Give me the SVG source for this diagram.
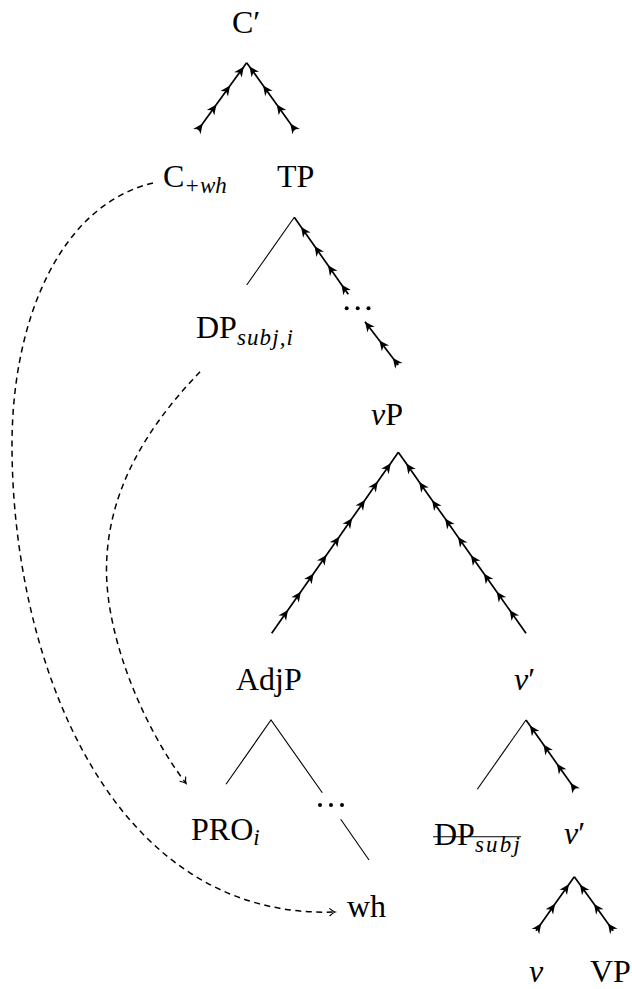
<svg xmlns="http://www.w3.org/2000/svg" width="632" height="989" viewBox="0 0 632 989">
<style>
text{font-family:"Liberation Serif","Times New Roman",serif;font-size:32px;fill:#000}
.it{font-style:italic}
.sub{font-size:23px;font-style:italic}
.plain{fill:none;stroke:#000;stroke-width:1.1}
.arr{fill:none;stroke:#000;stroke-width:1.7;marker-mid:url(#stealth)}
.dash{fill:none;stroke:#000;stroke-width:1.5;stroke-dasharray:6 4.5;marker-end:url(#open)}
</style>
<defs>
<marker id="stealth" viewBox="-11 -6 13 12" refX="0" refY="0" markerWidth="13" markerHeight="12" markerUnits="userSpaceOnUse" orient="auto" overflow="visible">
<path d="M0,0 L-10,-4.6 L-7,0 L-10,4.6 Z" fill="#000" stroke="none"/>
</marker>
<marker id="stealthEnd" viewBox="-11 -6 13 12" refX="0" refY="0" markerWidth="13" markerHeight="12" markerUnits="userSpaceOnUse" orient="auto" overflow="visible">
<path d="M0,0 L-10,-4.6 L-7,0 L-10,4.6 Z" fill="#000" stroke="none"/>
</marker>
<marker id="open" viewBox="-8 -5 10 10" refX="0" refY="0" markerWidth="10" markerHeight="10" markerUnits="userSpaceOnUse" orient="auto" overflow="visible">
<path d="M-5.5,-3.8 Q-2,-0.6 0,0 Q-2,0.6 -5.5,3.8" fill="none" stroke="#000" stroke-width="1.2" stroke-dasharray="none"/>
</marker>
</defs>

<g id="connectors">
<polyline class="arr" points="198,130 202.7,123.5 216.4,104.6 230.1,85.6 243.8,66.7 246.6,62.7"/>
<polyline class="arr" points="295,130 290.3,123.5 276.7,104.5 263.1,85.4 249.4,66.4 246.6,62.7"/>
<line class="plain" x1="294.3" y1="217.3" x2="246.7" y2="285"/>
<polyline class="arr" points="348.3,294.3 341.4,284.5 328.0,265.3 314.5,246.1 301.1,227.0 294.3,217.3"/>
<polyline class="arr" style="marker-end:url(#stealthEnd)" points="398.3,365 392.8,357.9 379.4,340.4 365,321.7"/>
<polyline class="arr" points="271.7,633.3 288.0,610.0 300.8,591.7 313.6,573.4 326.5,555.0 339.3,536.7 352.1,518.3 365.0,500.0 377.8,481.6 390.7,463.3 398.3,452.3"/>
<polyline class="arr" points="526,633.3 509.6,610.1 496.7,591.8 483.8,573.5 470.9,555.2 458.0,536.9 445.1,518.6 432.1,500.3 419.2,481.9 406.3,463.6 398.3,452.3"/>
<polyline class="plain" points="226,784.3 271,720 322.3,792.7"/>
<line class="plain" x1="340.7" y1="819.3" x2="369" y2="860"/>
<line class="plain" x1="526" y1="720" x2="477.3" y2="789.3"/>
<polyline class="arr" points="575,789.3 570.4,782.8 556.9,763.7 543.4,744.6 529.9,725.5 526,720"/>
<polyline class="arr" points="536,930.7 541.2,923.4 555.1,903.8 569.0,884.2 574.3,876.7"/>
<polyline class="arr" points="613.3,930.7 608.0,923.4 594.0,903.9 579.9,884.5 574.3,876.7"/>
<path class="dash" d="M153,183 C60,205 12,320 12,445 C12,660 110,920 335,912"/>
<path class="dash" d="M200,371.7 C160,414 106.5,480 106.5,570 C106.5,640 145,730 186,783.3"/>
</g>

<g id="n-Cbar"><text x="232" y="33">C′</text></g>
<g id="n-Cwh"><text x="163" y="187">C<tspan class="sub" font-style="normal" dy="6">+</tspan><tspan class="sub">wh</tspan></text></g>
<g id="n-TP"><text x="277" y="187">TP</text></g>
<g id="n-DPsubji"><text x="196" y="338">DP<tspan class="sub" dy="7" textLength="56">subj,i</tspan></text></g>
<g id="n-dots1"><circle cx="346.7" cy="308.3" r="2"/><circle cx="357.7" cy="308.3" r="2"/><circle cx="368.5" cy="308.3" r="2"/></g>
<g id="n-vP"><text x="371" y="425"><tspan class="it">v</tspan>P</text></g>
<g id="n-AdjP"><text x="236" y="690">AdjP</text></g>
<g id="n-vbar1"><text x="514" y="690"><tspan class="it">v</tspan>′</text></g>
<g id="n-PRO"><text x="191" y="840">PRO<tspan class="sub" dy="5">i</tspan></text></g>
<g id="n-dots2"><circle cx="320" cy="805" r="2"/><circle cx="331" cy="805" r="2"/><circle cx="342" cy="805" r="2"/></g>
<g id="n-DPsubj"><text x="434" y="845">DP<tspan class="sub" dy="7" textLength="45">subj</tspan></text><line x1="433" y1="836.7" x2="521" y2="836.7" stroke="#000" stroke-width="1.1"/></g>
<g id="n-vbar2"><text x="564" y="844"><tspan class="it">v</tspan>′</text></g>
<g id="n-wh"><text x="347" y="917">wh</text></g>
<g id="n-v"><text x="529" y="982" class="it">v</text></g>
<g id="n-VP"><text x="590" y="982">VP</text></g>
</svg>
